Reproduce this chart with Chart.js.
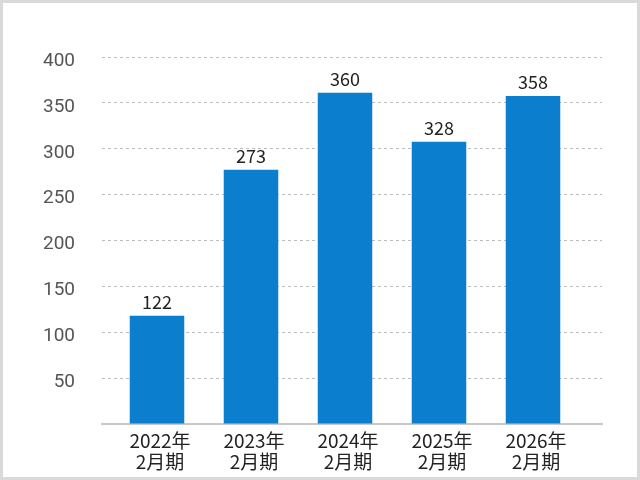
<!DOCTYPE html>
<html><head><meta charset="utf-8">
<script src="https://cdn.jsdelivr.net/npm/chart.js@4"></script>
<style>html,body{margin:0;padding:0;background:#fff}#wrap{width:640px;height:480px}</style>
</head><body><div id="wrap"><canvas id="c" width="640" height="480"></canvas></div>
<script>
const categories = [['2022年','2月期'],['2023年','2月期'],['2024年','2月期'],['2025年','2月期'],['2026年','2月期']];
const barValues = [118, 277, 361, 307.5, 357.5];
const valueLabels = ['122','273','360','328','358'];
const yMin = 0, yMax = 400, yStep = 50;

const narrow = "'Liberation Sans Narrow','Noto Sans CJK JP',sans-serif";

const valueLabelPlugin = {
  id: 'valueLabels',
  afterDatasetsDraw(chart) {
    const ctx = chart.ctx;
    const meta = chart.getDatasetMeta(0);
    ctx.save();
    ctx.font = "18px " + narrow;
    ctx.fillStyle = '#222';
    ctx.textAlign = 'center';
    ctx.textBaseline = 'alphabetic';
    meta.data.forEach((bar, i) => ctx.fillText(valueLabels[i], bar.x, bar.y - 7));
    ctx.restore();
  }
};
const framePlugin = {
  id: 'frame',
  beforeDraw(chart) {
    const ctx = chart.ctx;
    ctx.save(); ctx.fillStyle = '#fff'; ctx.fillRect(0, 0, chart.width, chart.height); ctx.restore();
  },
  afterDraw(chart) {
    const ctx = chart.ctx;
    ctx.save(); ctx.strokeStyle = '#dadada'; ctx.lineWidth = 3;
    ctx.strokeRect(1.5, 1.5, chart.width - 3, chart.height - 3); ctx.restore();
  }
};

new Chart(document.getElementById('c'), {
  type: 'bar',
  data: {
    datasets: [{
      data: barValues.map((v, i) => ({ x: i, y: v })),
      backgroundColor: '#0b7fcd',
      borderWidth: 0,
      categoryPercentage: 1,
      barPercentage: 0.58
    }]
  },
  options: {
    responsive: false,
    animation: false,
    layout: { padding: { top: 57, right: 38, left: 0, bottom: 0 } },
    plugins: { legend: { display: false }, tooltip: { enabled: false } },
    scales: {
      x: {
        type: 'linear', offset: false,
        min: -0.585, max: 4.734,
        grid: { display: false, drawTicks: false, offset: false },
        border: { display: true, color: '#c8c8c8', width: 2 },
        afterBuildTicks: axis => { axis.ticks = categories.map((c, i) => ({ value: i })); },
        ticks: {
          callback: v => categories[v],
          font: { family: narrow, size: 19, lineHeight: 1.12 },
          color: '#222', padding: 6, maxRotation: 0, autoSkip: false, labelOffset: 3
        },
        afterFit: a => { a.height = 56; }
      },
      y: {
        min: yMin, max: yMax,
        ticks: {
          stepSize: yStep,
          callback: v => v === 0 ? '' : v,
          padding: 27,
          labelOffset: 4,
          font: { family: 'Roboto', size: 19 },
          color: '#555'
        },
        grid: { drawTicks: false, color: c => c.tick && c.tick.value === 0 ? 'rgba(0,0,0,0)' : '#bcbcbc', lineWidth: 1 },
        border: { display: false, dash: [3, 3] },
        afterFit: a => { a.width = 102; }
      }
    }
  },
  plugins: [valueLabelPlugin, framePlugin]
});
</script></body></html>
